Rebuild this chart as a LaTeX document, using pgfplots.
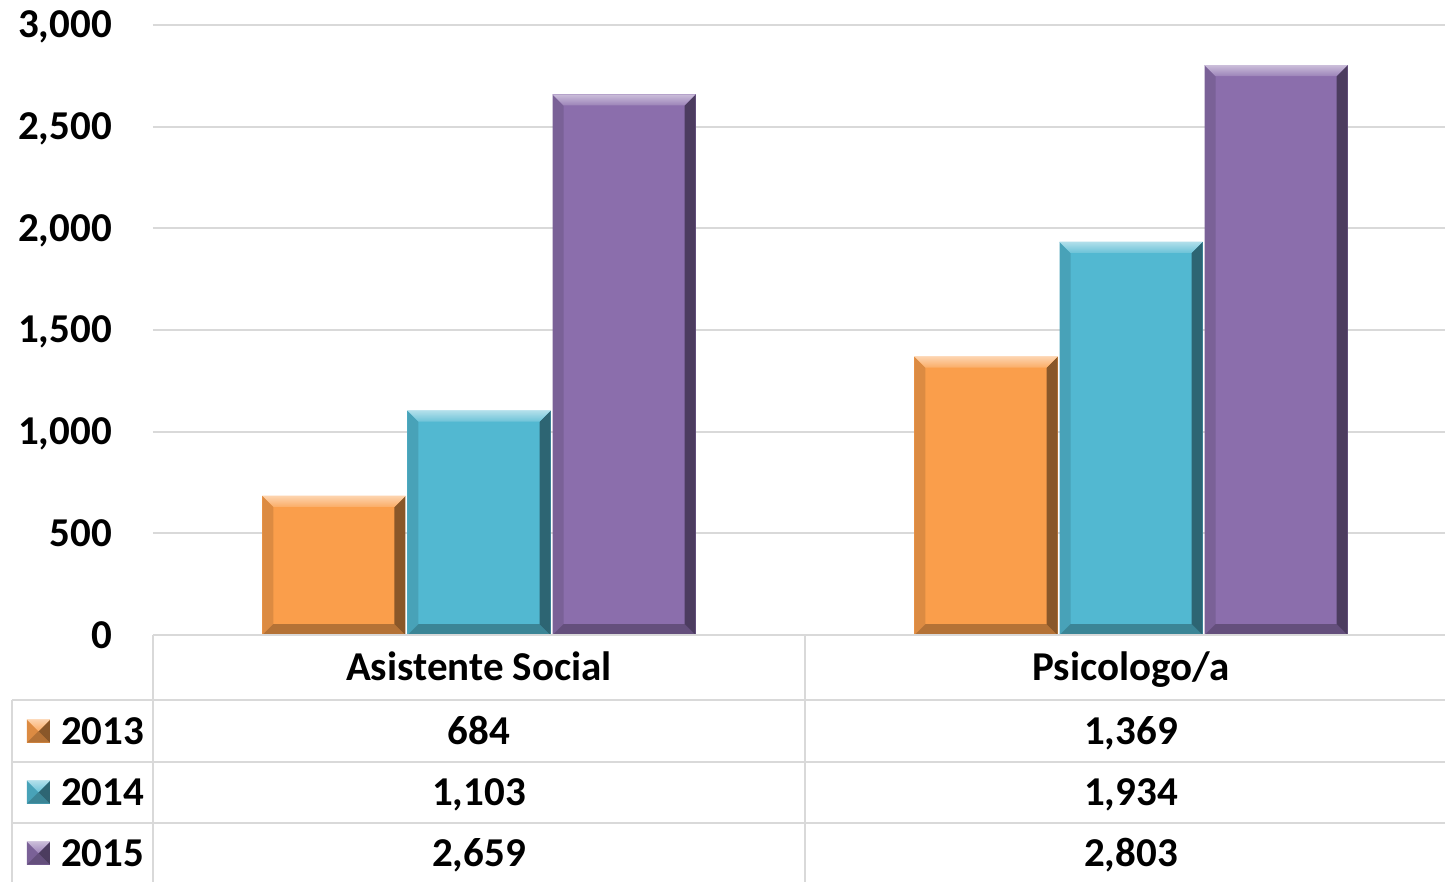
\documentclass[border=0pt]{standalone}
\usepackage{pgfplots}
\pgfplotsset{compat=1.18}
\usepackage{fontspec}
\setmainfont{Carlito}
\usetikzlibrary{calc}
\definecolor{cOr}{RGB}{250,158,75}
\definecolor{cBl}{RGB}{82,184,209}
\definecolor{cPu}{RGB}{139,110,172}
\definecolor{gridc}{RGB}{217,217,217}
\def\bv{11pt}
\def\pp{path picture bounding box}
\tikzset{bevel/.style={fill=#1, draw=none, path picture={
  \fill[path picture={}, #1!88!black] (\pp.south west) -- (\pp.north west) -- ($(\pp.north west)+(\bv,-\bv)$) -- ($(\pp.south west)+(\bv,\bv)$) -- cycle;
  \fill[path picture={}, #1!72!black] (\pp.south west) -- (\pp.south east) -- ($(\pp.south east)+(-\bv,\bv)$) -- ($(\pp.south west)+(\bv,\bv)$) -- cycle;
  \fill[path picture={}, #1!55!black] (\pp.north east) -- (\pp.south east) -- ($(\pp.south east)+(-\bv,\bv)$) -- ($(\pp.north east)+(-\bv,-\bv)$) -- cycle;
  \fill[path picture={}, top color=#1!45!white, bottom color=#1!85!white] (\pp.north west) -- (\pp.north east) -- ($(\pp.north east)+(-\bv,-\bv)$) -- ($(\pp.north west)+(\bv,-\bv)$) -- cycle;
}}}
\newcommand{\bigf}{\fontsize{41}{49}\selectfont\bfseries}
\begin{document}
\begin{tikzpicture}
\begin{axis}[
  at={(0pt,0pt)}, anchor=south west, scale only axis,
  width=1304pt, height=610pt,
  xmin=-0.5, xmax=1.5, ymin=0, ymax=3000,
  ybar, bar width=143pt,
  axis line style={draw=none},
  ytick={0,500,...,3000},
  ymajorgrids, grid style={gridc, line width=2pt},
  xtick={0,1}, xticklabels={Asistente Social, Psicologo/a},
  major tick length=0pt,
  tick label style={font=\bigf},
  /pgf/number format/assume math mode=true,
  /pgf/number format/1000 sep={,},
  scaled y ticks=false,
  yticklabel style={anchor=base east, inner sep=0pt, xshift=-41pt, yshift=-13pt},
  xticklabel style={anchor=base, inner sep=0pt, yshift=-45pt},
]
% 2013
\addplot[bevel=cOr, bar shift=-145pt] coordinates {(0,684)};
\addplot[bevel=cOr, bar shift=-145pt] coordinates {(1,1369)};
% 2014
\addplot[bevel=cBl, bar shift=0pt] coordinates {(0,1103)};
\addplot[bevel=cBl, bar shift=0pt] coordinates {(1,1934)};
% 2015
\addplot[bevel=cPu, bar shift=145pt] coordinates {(0,2659)};
\addplot[bevel=cPu, bar shift=145pt] coordinates {(1,2803)};
\end{axis}
% data table
\begin{scope}[gridc, line width=2pt]
  \draw (0pt,0pt) -- (1304pt,0pt);
  \draw (-141pt,-65pt) -- (1304pt,-65pt);
  \draw (-141pt,-127pt) -- (1304pt,-127pt);
  \draw (-141pt,-188pt) -- (1304pt,-188pt);
  \draw (-141pt,-65pt) -- (-141pt,-250pt);
  \draw (0pt,0pt) -- (0pt,-250pt);
  \draw (652pt,0pt) -- (652pt,-250pt);
\end{scope}
\begin{scope}[every node/.style={font=\bigf, inner sep=0pt}]
  \node[anchor=base] at (326pt,-109pt) {684};
  \node[anchor=base] at (978pt,-109pt) {1,369};
  \node[anchor=base] at (326pt,-170pt) {1,103};
  \node[anchor=base] at (978pt,-170pt) {1,934};
  \node[anchor=base] at (326pt,-231pt) {2,659};
  \node[anchor=base] at (978pt,-231pt) {2,803};
  \node[anchor=base west] at (-92pt,-109pt) {2013};
  \node[anchor=base west] at (-92pt,-170pt) {2014};
  \node[anchor=base west] at (-92pt,-231pt) {2015};
\end{scope}
\def\bv{11.5pt}
\path[bevel=cOr] (-126pt,-107.5pt) rectangle (-103pt,-84.5pt);
\path[bevel=cBl] (-126pt,-168.5pt) rectangle (-103pt,-145.5pt);
\path[bevel=cPu] (-126pt,-229.5pt) rectangle (-103pt,-206.5pt);
\pgfresetboundingbox
\path (-153pt,-246pt) rectangle (1292pt,635pt);
\end{tikzpicture}
\end{document}
